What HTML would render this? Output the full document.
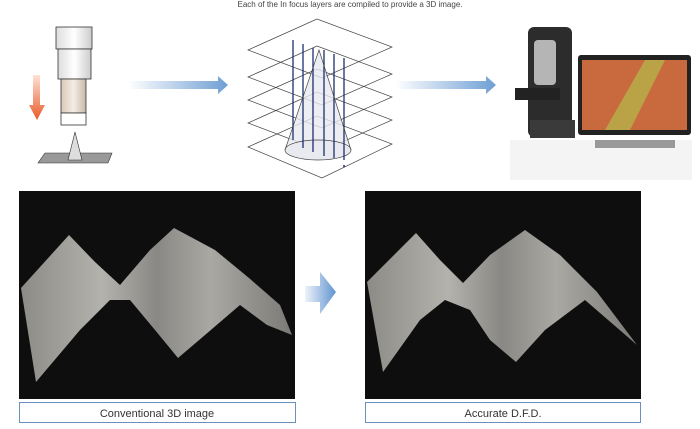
<!DOCTYPE html>
<html><head><meta charset="utf-8"><style>
body{margin:0;background:#fff;width:700px;height:424px;overflow:hidden;font-family:"Liberation Sans",sans-serif}
</style></head><body>
<svg width="700" height="424" viewBox="0 0 700 424" xmlns="http://www.w3.org/2000/svg">
<defs>
<linearGradient id="ar" x1="0" x2="1"><stop offset="0" stop-color="#fff"/><stop offset="1" stop-color="#6e9ed4"/></linearGradient>
<linearGradient id="ar2" x1="0" x2="1"><stop offset="0" stop-color="#eef3fa"/><stop offset="1" stop-color="#5f93cf"/></linearGradient>
<linearGradient id="red" x1="0" y1="0" x2="0" y2="1"><stop offset="0" stop-color="#fde2d6"/><stop offset="1" stop-color="#e85a2a"/></linearGradient>
<linearGradient id="lens" x1="0" x2="1"><stop offset="0" stop-color="#ddd"/><stop offset=".5" stop-color="#fff"/><stop offset="1" stop-color="#ccc"/></linearGradient>
<linearGradient id="lens2" x1="0" x2="1"><stop offset="0" stop-color="#d8c8b8"/><stop offset=".5" stop-color="#f4ece4"/><stop offset="1" stop-color="#c8b8a8"/></linearGradient>
<linearGradient id="metal" x1="0" y1="0" x2="1" y2="0"><stop offset="0" stop-color="#8d8b86"/><stop offset=".3" stop-color="#b4b2ad"/><stop offset=".5" stop-color="#8a8884"/><stop offset=".7" stop-color="#aaa8a3"/><stop offset="1" stop-color="#7c7a76"/></linearGradient>
</defs>
<text x="350" y="7" font-size="8" fill="#444" text-anchor="middle">Each of the In focus layers are compiled to provide a 3D image.</text>
<!-- lens -->
<rect x="56" y="27" width="36" height="22" fill="url(#lens)" stroke="#333" stroke-width=".8"/>
<rect x="58" y="49" width="33" height="30" fill="url(#lens)" stroke="#333" stroke-width=".8"/>
<rect x="61" y="79" width="25" height="34" fill="url(#lens2)" stroke="#333" stroke-width=".8"/>
<rect x="61" y="113" width="25" height="12" fill="#fff" stroke="#333" stroke-width=".8"/>
<polygon points="33,75 40,75 40,105 45,105 37,120 29,105 33,105" fill="url(#red)"/>
<polygon points="38,163 108,163 112,153 45,153 38,163" fill="#999" stroke="#333" stroke-width=".6"/>
<polygon points="68,160 75,132 82,160" fill="#ddd" stroke="#333" stroke-width=".6"/>
<!-- arrows -->
<polygon points="128,81 218,81 218,76 228,85 218,94 218,89 128,89" fill="url(#ar)"/>
<polygon points="395,81 486,81 486,76 496,85 486,94 486,89 395,89" fill="url(#ar)"/>
<!-- layers -->
<g fill="none" stroke="#444" stroke-width=".7">
<polygon points="248,50 317,19 392,47 322,78"/>
<polygon points="248,77 317,46 392,74 322,105"/>
<polygon points="248,100 317,69 392,97 322,128"/>
<polygon points="248,123 317,92 392,120 322,151"/>
<polygon points="248,147 317,116 392,144 322,178"/>
</g>
<polygon points="285,150 319,50 351,150" fill="#e8eaf0" opacity=".8"/>
<ellipse cx="318" cy="150" rx="33" ry="10" fill="#e8eaf0" stroke="#444" stroke-width=".7"/>
<g stroke="#1c2f6e" stroke-width="1.3">
<line x1="293" y1="40" x2="293" y2="140"/><line x1="303" y1="44" x2="303" y2="148"/>
<line x1="313" y1="48" x2="313" y2="152"/><line x1="324" y1="50" x2="324" y2="156"/>
<line x1="334" y1="54" x2="334" y2="158"/><line x1="344" y1="58" x2="344" y2="160"/>
</g>
<polyline points="285,150 319,50 351,150" fill="none" stroke="#444" stroke-width=".7"/>
<circle cx="344" cy="166" r="1" fill="#1c2f6e"/>
<!-- microscope + monitor -->
<rect x="510" y="140" width="182" height="40" fill="#f4f4f4"/>
<rect x="578" y="55" width="113" height="80" rx="3" fill="#222"/>
<rect x="582" y="60" width="105" height="70" fill="#c86a3e"/>
<polygon points="605,130 645,60 665,60 630,130" fill="#b7b04a" opacity=".8"/>
<rect x="528" y="27" width="44" height="110" rx="6" fill="#2c2c2c"/>
<rect x="534" y="40" width="22" height="45" rx="4" fill="#b5b5b5"/>
<rect x="515" y="88" width="45" height="12" fill="#222"/>
<rect x="530" y="120" width="45" height="18" fill="#3a3a3a"/>
<rect x="595" y="140" width="80" height="8" fill="#999"/>
<!-- images -->
<rect x="19" y="191" width="276" height="208" fill="#0e0e0e"/>
<polygon points="21,288 69,235 95,262 120,285 150,250 174,228 215,250 249,278 280,305 292,335 267,325 240,305 205,335 178,358 155,330 130,300 110,300 80,330 36,382" fill="url(#metal)"/>
<rect x="365" y="191" width="276" height="208" fill="#0e0e0e"/>
<polygon points="367,282 416,233 440,260 463,283 490,255 525,230 560,255 597,292 637,345 585,300 545,330 516,362 490,340 470,310 445,300 420,320 383,372" fill="url(#metal)"/>
<polygon points="305,286 320,286 320,272 336,292 320,314 320,302 305,302" fill="url(#ar2)"/>
<rect x="19.5" y="402.5" width="276" height="20" fill="#fff" stroke="#6b8fbf"/>
<rect x="365.5" y="402.5" width="275" height="20" fill="#fff" stroke="#6b8fbf"/>
<text x="157" y="417" font-size="11" fill="#333" text-anchor="middle">Conventional 3D image</text>
<text x="503" y="417" font-size="11" fill="#333" text-anchor="middle">Accurate D.F.D.</text>
</svg>
</body></html>
